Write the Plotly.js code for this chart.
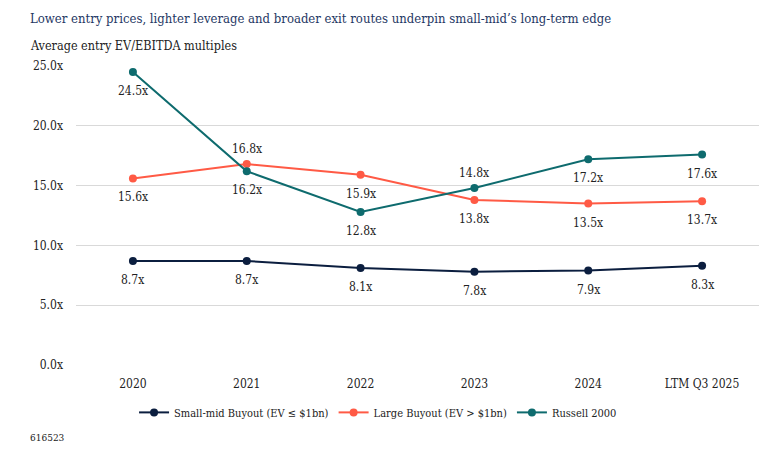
<!DOCTYPE html>
<html>
<head>
<meta charset="utf-8">
<script src="https://cdn.plot.ly/plotly-3.0.1.min.js"></script>
<style>html,body{margin:0;padding:0;background:#fff;}#chart{width:780px;height:459px;}</style>
</head>
<body>
<div id="chart"></div>
<script>
const categories = ["2020", "2021", "2022", "2023", "2024", "LTM Q3 2025"];
const smallMid = [8.7, 8.7, 8.1, 7.8, 7.9, 8.3];
const largeBuyout = [15.6, 16.8, 15.9, 13.8, 13.5, 13.7];
const russell = [24.5, 16.2, 12.8, 14.8, 17.2, 17.6];
const smallMidPos = ["below","below","below","below","below","below"];
const largePos = ["below","above","below","below","below","below"];
const russellPos = ["below","below","below","above","below","below"];
const seriesNames = ["Small-mid Buyout (EV ≤ $1bn)", "Large Buyout (EV > $1bn)", "Russell 2000"];
const colors = ["#0B1E3F", "#FF5A45", "#0E6B6E"];

const fmt = v => v.toFixed(1) + "x";
const font = "DejaVu Serif Condensed, DejaVu Serif, serif";

function trace(vals, name, color) {
  return {
    x: categories, y: vals, name: name, type: "scatter", mode: "lines+markers",
    line: {color: color, width: 2},
    marker: {color: color, size: 8},
    cliponaxis: false
  };
}

const data = [
  trace(smallMid, seriesNames[0], colors[0]),
  trace(largeBuyout, seriesNames[1], colors[1]),
  trace(russell, seriesNames[2], colors[2])
];

const labelAnnotations = [];
[[smallMid, smallMidPos], [largeBuyout, largePos], [russell, russellPos]].forEach(([vals, pos]) => {
  vals.forEach((v, i) => {
    labelAnnotations.push({
      x: i, y: v, xref: "x", yref: "y", text: fmt(v), showarrow: false,
      yshift: pos[i] === "above" ? 15 : -19, xanchor: "center", yanchor: "middle",
      font: {family: font, size: 12, color: "#222"}
    });
  });
});

const layout = {
  width: 780, height: 459,
  margin: {l: 76, r: 21, t: 66, b: 94},
  paper_bgcolor: "#fff", plot_bgcolor: "#fff",
  font: {family: font, size: 12, color: "#222"},
  showlegend: true,
  legend: {orientation: "h", x: 0.085, xanchor: "left", y: -0.11, yanchor: "top",
           font: {family: font, size: 11, color: "#222"}, traceorder: "normal"},
  xaxis: {type: "category", range: [-0.5, 5.5], showgrid: false, zeroline: false,
          showline: false, ticks: "", ticklabelstandoff: 10, tickfont: {family: font, size: 12, color: "#222"}},
  yaxis: {range: [0, 25], dtick: 5, tickformat: ".1f", ticksuffix: "x", showgrid: true,
          gridcolor: "#D9D9D9", gridwidth: 1, zeroline: false, showline: false, ticks: "",
          ticklabelstandoff: 12, tickfont: {family: font, size: 12, color: "#222"}},
  annotations: labelAnnotations.concat([
    {text: "Lower entry prices, lighter leverage and broader exit routes underpin small-mid’s long-term edge",
     xref: "paper", yref: "paper", x: -48/683, y: 1 + 48/299, xanchor: "left", yanchor: "middle",
     showarrow: false, font: {family: font, size: 13, color: "#1F3864"}},
    {text: "Average entry EV/EBITDA multiples",
     xref: "paper", yref: "paper", x: -48/683, y: 1 + 21/299, xanchor: "left", yanchor: "middle",
     showarrow: false, font: {family: font, size: 12.5, color: "#222"}},
    {text: "616523",
     xref: "paper", yref: "paper", x: -48/683, y: -72/299, xanchor: "left", yanchor: "middle",
     showarrow: false, font: {family: font, size: 10, color: "#222"}}
  ])
};

Plotly.newPlot("chart", data, layout, {displayModeBar: false, staticPlot: true});
</script>
</body>
</html>
